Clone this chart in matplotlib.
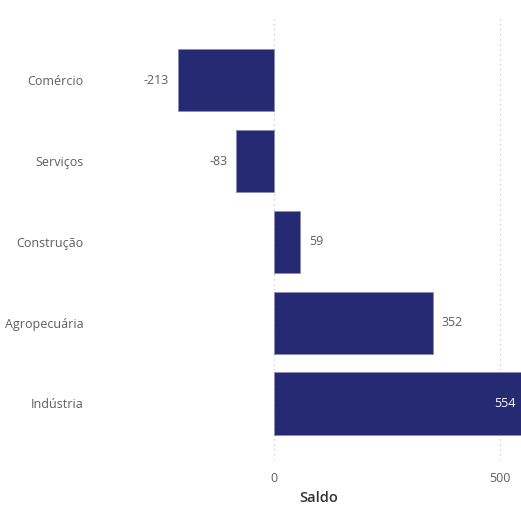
import numpy as np
import matplotlib.pyplot as plt

plt.rcParams['font.family'] = ['Open Sans', 'DejaVu Sans']

setores = ["Comércio", "Serviços", "Construção", "Agropecuária", "Indústria"]
saldo = [-213, -83, 59, 352, 554]

bar_color = '#262A73'
text_gray = '#605E5C'

fig = plt.figure(figsize=(5.21, 5.05), dpi=100)
ax = fig.add_axes([117 / 521, 45 / 505, 404 / 521, 442 / 505])

y = np.arange(len(setores))
ax.barh(y, saldo, height=0.77, color=bar_color, edgecolor='#8A8DB8', linewidth=0.6, zorder=3)

x_min, x_max = -347, 547
ax.set_xlim(x_min, x_max)
ax.set_ylim(4.70, -0.77)

ax.set_yticks(y)
ax.set_yticklabels(setores)
ax.set_xticks([0, 500])
ax.set_xticklabels(['0', '500'])
ax.tick_params(axis='y', length=0, pad=24, labelsize=9, labelcolor=text_gray)
ax.tick_params(axis='x', length=0, pad=9, labelsize=9, labelcolor=text_gray)

ax.grid(axis='x', linestyle=(0, (1, 3)), color='#C8C8C8', linewidth=0.9, zorder=0)
for s in ax.spines.values():
    s.set_visible(False)

ax.set_xlabel('Saldo', fontsize=10.5, color='#333333', fontweight='semibold', labelpad=4)

# data labels
for yi, v in zip(y, saldo):
    if v < 0:
        ax.text(v - 20, yi, str(v), ha='right', va='center', fontsize=9, color=text_gray)
    elif v + 60 > x_max:
        ax.text(x_max - 12, yi, str(v), ha='right', va='center', fontsize=9, color='white', zorder=4)
    else:
        ax.text(v + 20, yi, str(v), ha='left', va='center', fontsize=9, color=text_gray)

fig.savefig('out.png', dpi=100)
